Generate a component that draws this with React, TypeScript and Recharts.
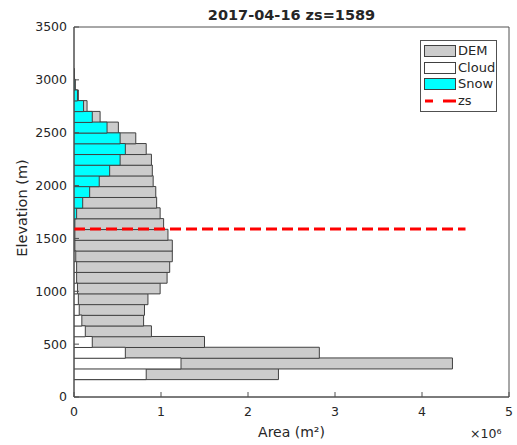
import React from 'react'
import { ComposedChart, Bar, XAxis, YAxis, ReferenceLine, ReferenceArea } from 'recharts'

// bin centres (m) and areas (x1e6 m^2)
const ELEVATION = [
  218, 319, 420, 522, 623, 725, 826, 927, 1029, 1130,
  1232, 1333, 1434, 1536, 1637, 1739, 1840, 1941, 2043, 2144,
  2246, 2347, 2448, 2550, 2651, 2753, 2854, 2955, 3057,
]
const DEM_AREA = [
  2.35, 4.35, 2.82, 1.5, 0.89, 0.8, 0.81, 0.85, 0.99, 1.07,
  1.1, 1.13, 1.13, 1.08, 1.03, 0.99, 0.95, 0.94, 0.91, 0.9,
  0.89, 0.83, 0.71, 0.51, 0.3, 0.15, 0.05, 0.015, 0.005,
]
const CLOUD_AREA = [
  0.83, 1.23, 0.59, 0.21, 0.13, 0.09, 0.06, 0.05, 0.04, 0.03,
  0.03, 0.02, 0.01, 0.01, 0, 0, 0, 0, 0, 0,
  0, 0, 0, 0, 0, 0, 0, 0, 0,
]
const SNOW_AREA = [
  0, 0, 0, 0, 0, 0, 0, 0, 0, 0,
  0, 0, 0, 0, 0.01, 0.03, 0.1, 0.18, 0.29, 0.41,
  0.53, 0.59, 0.53, 0.38, 0.21, 0.11, 0.04, 0.01, 0,
]
const ZS = 1589
const ZS_LINE_END = 4.5e6
const X_TICKS = [0, 1e6, 2e6, 3e6, 4e6, 5e6]
const Y_TICKS = [0, 500, 1000, 1500, 2000, 2500, 3000, 3500]

const LEGEND_ITEMS = [
  { name: 'DEM', fill: '#cccccc' },
  { name: 'Cloud', fill: '#ffffff' },
  { name: 'Snow', fill: '#00ffff' },
]

const data = ELEVATION.map((elev, i) => ({
  elev,
  dem: DEM_AREA[i] * 1e6,
  cloud: CLOUD_AREA[i] * 1e6,
  snow: SNOW_AREA[i] * 1e6,
}))

const TEXT = '#262626'
const AXIS = '#505050'
const EDGE = '#404040'
const FONT = '"DejaVu Sans", sans-serif'

export default function App() {
  const tickStyle = { fontSize: 12.5, fill: TEXT, fontFamily: FONT }

  return (
    <div style={{ position: 'absolute', left: 0, top: 0, width: 517, height: 445, fontFamily: FONT, color: TEXT, background: '#fff' }}>
      <ComposedChart
        width={517}
        height={445}
        data={data}
        layout="vertical"
        margin={{ top: 27, right: 8, bottom: 0, left: 0 }}
        barCategoryGap={0}
        barGap={0}
      >
        <XAxis
          type="number"
          domain={[0, 5e6]}
          ticks={X_TICKS}
          allowDataOverflow
          height={48}
          tickSize={-5}
          tickMargin={15}
          tick={tickStyle}
          stroke={AXIS}
          tickFormatter={(v: number) => String(v / 1e6)}
        />
        <XAxis
          xAxisId="top"
          orientation="top"
          type="number"
          domain={[0, 5e6]}
          ticks={X_TICKS}
          allowDataOverflow
          height={0}
          tickSize={-5}
          tick={false}
          stroke={AXIS}
        />
        <YAxis
          yAxisId="dem"
          type="number"
          dataKey="elev"
          domain={[0, 3500]}
          ticks={Y_TICKS}
          allowDataOverflow
          reversed
          width={74}
          tickSize={-5}
          tickMargin={12}
          tick={tickStyle}
          stroke={AXIS}
        />
        <YAxis yAxisId="cloud" type="number" dataKey="elev" domain={[0, 3500]} allowDataOverflow reversed hide width={0} />
        <YAxis yAxisId="snow" type="number" dataKey="elev" domain={[0, 3500]} allowDataOverflow reversed hide width={0} />
        <YAxis
          yAxisId="right"
          orientation="right"
          type="number"
          domain={[0, 3500]}
          ticks={Y_TICKS}
          allowDataOverflow
          reversed
          width={0}
          tickSize={-5}
          tick={false}
          stroke={AXIS}
        />
        <ReferenceArea
          yAxisId="dem"
          x1={0}
          x2={5e6}
          y1={0}
          y2={3500}
          fill="none"
          fillOpacity={0}
          stroke={AXIS}
          strokeWidth={1}
        />
        <Bar yAxisId="dem" dataKey="dem" fill="#cccccc" stroke={EDGE} strokeWidth={1} isAnimationActive={false} />
        <Bar yAxisId="cloud" dataKey="cloud" fill="#ffffff" stroke={EDGE} strokeWidth={1} isAnimationActive={false} />
        <Bar yAxisId="snow" dataKey="snow" fill="#00ffff" stroke={EDGE} strokeWidth={1} isAnimationActive={false} />
        <ReferenceLine
          yAxisId="dem"
          segment={[{ x: 0, y: ZS }, { x: ZS_LINE_END, y: ZS }]}
          stroke="#ff0000"
          strokeWidth={3}
          strokeDasharray="11 5"
        />
      </ComposedChart>

      <div style={{ position: 'absolute', left: 74, width: 435, top: 5, textAlign: 'center', fontWeight: 'bold', fontSize: 14.5, lineHeight: '20px' }}>
        2017-04-16 zs=1589
      </div>
      <div style={{ position: 'absolute', left: 74, width: 435, top: 421, textAlign: 'center', fontSize: 14, lineHeight: '22px' }}>
        Area (m²)
      </div>
      <div style={{ position: 'absolute', left: 470, top: 424, fontSize: 12.5, lineHeight: '20px' }}>
        ×10⁶
      </div>
      <div
        style={{
          position: 'absolute',
          left: 22,
          top: 208,
          fontSize: 14.5,
          whiteSpace: 'nowrap',
          transform: 'translate(-50%, -50%) rotate(-90deg)',
        }}
      >
        Elevation (m)
      </div>

      <div
        style={{
          position: 'absolute',
          left: 420,
          top: 40,
          width: 75,
          height: 70,
          border: `1px solid ${AXIS}`,
          background: '#fff',
          fontSize: 13,
        }}
      >
        {LEGEND_ITEMS.map((item, i) => (
          <div key={item.name} style={{ position: 'absolute', left: 3, top: 4 + i * 16.7, height: 12, display: 'flex', alignItems: 'center' }}>
            <div style={{ width: 30, height: 10, background: item.fill, border: `1px solid ${EDGE}` }} />
            <span style={{ marginLeft: 2, lineHeight: '12px' }}>{item.name}</span>
          </div>
        ))}
        <div style={{ position: 'absolute', left: 3, top: 4 + 3 * 16.7, height: 12, display: 'flex', alignItems: 'center' }}>
          <svg width={32} height={12}>
            <line x1={1} y1={6} x2={32} y2={6} stroke="#ff0000" strokeWidth={3} strokeDasharray="8 10 13" />
          </svg>
          <span style={{ marginLeft: 2, lineHeight: '12px' }}>zs</span>
        </div>
      </div>
    </div>
  )
}
